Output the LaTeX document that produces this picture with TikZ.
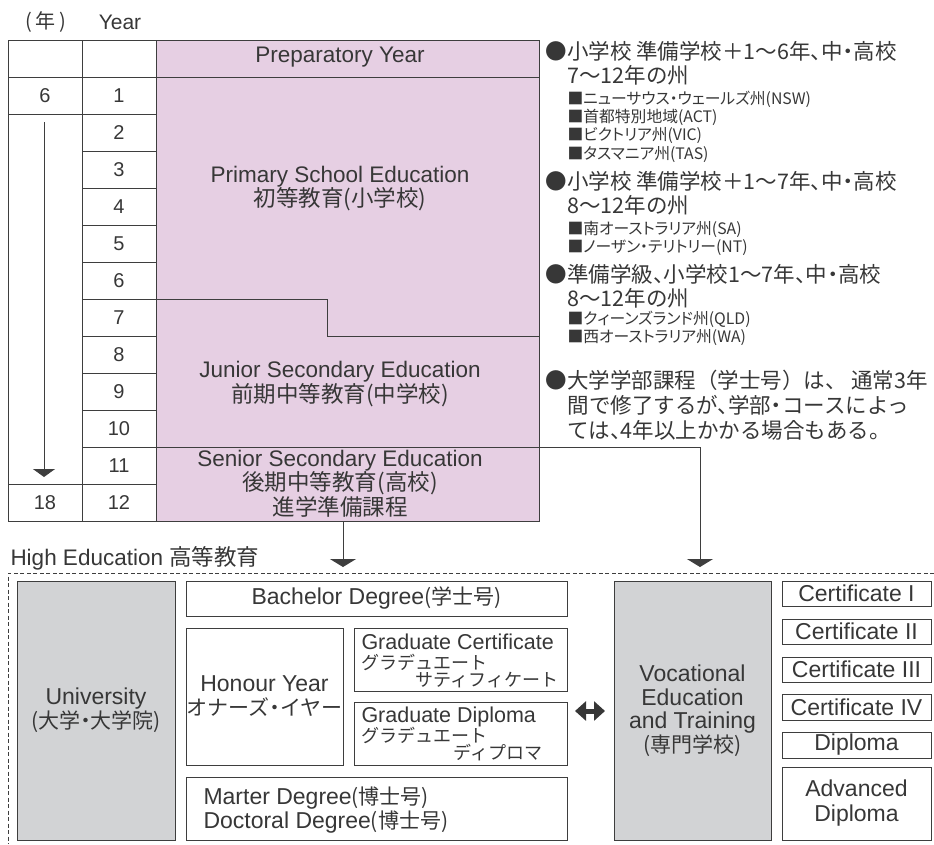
\documentclass[tikz,border=0pt]{standalone}
\usepackage{fontspec}
\setmainfont{Liberation Sans}
\newfontfamily\jp{Noto Sans CJK JP}
\newfontfamily\jpp{Noto Sans CJK JP}[RawFeature=+palt]
\usetikzlibrary{arrows.meta}
\definecolor{pinkf}{RGB}{230,207,227}
\definecolor{grayf}{RGB}{210,211,213}
\definecolor{lnc}{RGB}{62,62,62}
\definecolor{txc}{RGB}{55,55,55}
\newcommand\J[1]{{\jp #1}}
\newcommand\Jb[1]{{\jp\fontsize{21}{21}\selectfont #1}}
\newcommand\Jg[1]{{\jp\fontsize{18}{18}\selectfont #1}}
\newcommand\tou{、\kern-.5em}
\newcommand\nak{\kern-.25em・\kern-.25em}
\begin{document}
\begin{tikzpicture}[x=1pt,y=-1pt,line width=1pt,draw=lnc,text=txc,
  cell/.style={draw=lnc,line width=1pt,minimum width=74pt,minimum height=37pt,inner sep=0pt,font=\fontsize{20}{20}\selectfont},
  box/.style={draw=lnc,line width=1pt,fill=white,inner sep=0pt,align=center,font=\fontsize{23}{24}\selectfont},
  gbox/.style={box,fill=grayf},
  lbl/.style={inner sep=0pt,align=center,font=\fontsize{22.5}{23}\selectfont},
  txt/.style={inner sep=0pt,anchor=west},
  big/.style={txt,font=\jp\fontsize{21.5}{21.5}\selectfont},
  small/.style={txt,font=\jpp\fontsize{15.8}{15.8}\selectfont},
  arr/.style={draw=lnc,line width=1pt,-{Triangle[width=26pt,length=8pt]}},
  dashline/.style={draw=lnc,line width=0.9pt,dash pattern=on 4pt off 2.5pt}]
\useasboundingbox (0,0) rectangle (934,844);

% header
\node[inner sep=0pt,font=\jp\fontsize{20}{20}\selectfont] (hnen) at (46,22) {(\,年\,)};
\node[inner sep=0pt,font=\fontsize{21}{21}\selectfont] (hyear) at (120,22) {Year};

% pink area
\fill[pinkf] (156,40) rectangle (539,521);

% table cells
\node[cell] (c1p) at (45,58.5) {};
\node[cell] (c2p) at (119,58.5) {};
\node[cell] (c1r1) at (45,95.5) {6};
\node[cell,minimum height=370pt] (c1m) at (45,299) {};
\node[cell] (c1r12) at (45,502.5) {18};
\foreach \k in {1,...,12} \node[cell] (c2r\k) at (119,{58.5+37*\k}) {\k};

% pink outlines
\draw (156,40) rectangle (539,521);
\draw (156,77) -- (539,77);
\draw (156,299) -- (327,299) -- (327,336) -- (539,336);
\draw (156,447) -- (539,447);

% arrow in first column
\coordinate (ct) at (44,122);
\coordinate (cb) at (44,477);
\draw[draw=lnc,line width=1pt,-{Triangle[width=22pt,length=8pt]}] (ct) -- (cb);

% stage labels
\node[lbl] (prep) at (340,57.5) {Preparatory Year};
\node[lbl] (prim) at (340,188.5) {Primary School Education\\\J{初等教育(小学校)}};
\node[lbl,font=\fontsize{22.5}{25}\selectfont] (jun) at (340,384.5) {Junior Secondary Education\\\J{前期中等教育(中学校)}};
\node[lbl,font=\fontsize{22.5}{21.5}\selectfont] (sen) at (340,483.5) {Senior Secondary Education\\\J{後期中等教育(高校)}\\\J{進学準備課程}};

% right notes
\node[big] (n1) at (545,51) {●小学校 準備学校＋1〜6年\tou 中\nak 高校};
\node[big] (n2) at (567,75) {7〜12年の州};
\node[small] (n3) at (567,99) {■ニューサウス・ウェールズ州(NSW)};
\node[small] (n4) at (567,117.5) {■首都特別地域(ACT)};
\node[small] (n5) at (567,136) {■ビクトリア州(VIC)};
\node[small] (n6) at (567,154.5) {■タスマニア州(TAS)};
\node[big] (n7) at (545,181) {●小学校 準備学校＋1〜7年\tou 中\nak 高校};
\node[big] (n8) at (567,205) {8〜12年の州};
\node[small] (n9) at (567,229) {■南オーストラリア州(SA)};
\node[small] (n10) at (567,247.5) {■ノーザン・テリトリー(NT)};
\node[big] (n11) at (545,274) {●準備学級\tou 小学校1〜7年\tou 中\nak 高校};
\node[big] (n12) at (567,298) {8〜12年の州};
\node[small] (n13) at (567,319) {■クィーンズランド州(QLD)};
\node[small] (n14) at (567,337.5) {■西オーストラリア州(WA)};
\node[big] (n15) at (545,380) {●大学学部課程（学士号）は、 通常3年};
\node[big] (n16) at (567,405) {間で修了するが\tou 学部\nak コースによっ};
\node[big] (n17) at (567,430) {ては\tou 4年以上かかる場合もある。};

% connectors to higher education
\coordinate (sb) at (343,521);
\coordinate (he1) at (343,567);
\draw[arr] (sb) -- (he1);
\coordinate (r10) at (539,447);
\coordinate (he2) at (700,567);
\draw[arr] (r10) -| (he2);

% higher education frame
\node[txt,font=\fontsize{22.5}{22.5}\selectfont] (helab) at (10,558) {High Education \J{高等教育}};
\coordinate (dtl) at (8,573);
\coordinate (dtr) at (934,573);
\coordinate (dbl) at (8,844);
\draw[dashline] (dtr) -- (dtl) -- (dbl);

% university side
\node[gbox,minimum width=158pt,minimum height=259pt] (univ) at (96,710.5) {University\\\Jb{(大学\nak 大学院)}};
\node[box,minimum width=381pt,minimum height=35pt] (bach) at (376.5,598.5) {Bachelor Degree\Jb{(学士号)}};
\node[box,minimum width=157pt,minimum height=137pt] (hon) at (264.5,696.5) {Honour Year\\\Jb{オナーズ\nak イヤー}};
\node[box,minimum width=213pt,minimum height=63pt] (gcert) at (460.5,659.5) {};
\node[box,minimum width=213pt,minimum height=63pt] (gdip) at (460.5,733.5) {};
\node[box,minimum width=381pt,minimum height=63pt] (mast) at (376.5,808.5) {};

\node[txt,font=\fontsize{21.5}{21.5}\selectfont] (gc1) at (361,642) {Graduate Certificate};
\node[txt] (gc2) at (361,662) {\Jg{グラデュエート}};
\node[inner sep=0pt,anchor=east] (gc3) at (559,680) {\Jg{サティフィケート}};
\node[txt,font=\fontsize{21.5}{21.5}\selectfont] (gd1) at (361,717) {Graduate Diploma};
\node[txt] (gd2) at (361,735) {\Jg{グラデュエート}};
\node[txt] (gd3) at (453,753) {\Jg{ディプロマ}};
\node[txt,font=\fontsize{23}{23}\selectfont] (m1) at (203,798) {Marter Degree\Jb{(博士号)}};
\node[txt,font=\fontsize{23}{23}\selectfont] (m2) at (203,822) {Doctoral Degree\Jb{(博士号)}};

% double arrow
\coordinate (dl) at (575,711);
\coordinate (dr) at (605,711);
\draw[draw=txc,line width=5pt,{Triangle[width=19pt,length=11pt]}-{Triangle[width=19pt,length=11pt]}] (dl) -- (dr);

% vocational side
\node[gbox,minimum width=157pt,minimum height=259pt,font=\fontsize{23}{23.5}\selectfont] (voc) at (692.5,710.5) {Vocational\\Education\\and Training\\\Jb{(専門学校)}};
\node[box,minimum width=149pt,minimum height=25pt] (ce1) at (856.5,593.5) {Certificate I};
\node[box,minimum width=149pt,minimum height=25pt] (ce2) at (856.5,631.5) {Certificate II};
\node[box,minimum width=149pt,minimum height=25pt] (ce3) at (856.5,669.5) {Certificate III};
\node[box,minimum width=149pt,minimum height=26pt] (ce4) at (856.5,707) {Certificate IV};
\node[box,minimum width=149pt,minimum height=26pt] (dipl) at (856.5,745) {Diploma};
\node[box,minimum width=149pt,minimum height=73pt,font=\fontsize{23}{25}\selectfont] (adv) at (856.5,803.5) {Advanced\\Diploma};
\end{tikzpicture}
\end{document}
